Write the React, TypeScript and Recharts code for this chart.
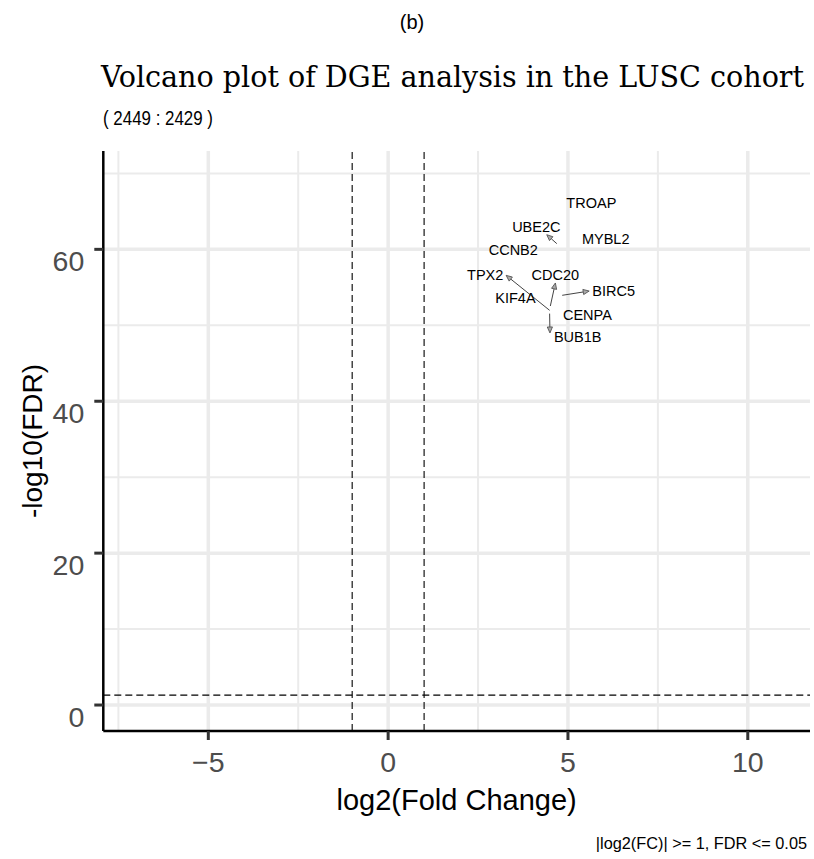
import React from "react";
import { ScatterChart, Scatter, XAxis, YAxis, ReferenceLine } from "recharts";

// gene labels as placed by the label repel step (log2 FC, -log10 FDR)
const genes = ["TROAP", "UBE2C", "MYBL2", "CCNB2", "TPX2", "CDC20", "BIRC5", "KIF4A", "CENPA", "BUB1B"];
const labelFC = [5.65, 4.12, 6.05, 3.48, 2.7, 4.65, 6.27, 3.54, 5.54, 5.27];
const labelLogFDR = [66.05, 62.89, 61.32, 59.87, 56.58, 56.58, 54.47, 53.55, 51.32, 48.42];

// connector segments: from the gene's point to its label
const segFromFC = [4.69, 4.49, 4.51, 4.84, 4.49];
const segFromLogFDR = [60.75, 51.97, 52.54, 53.95, 51.54];
const segToFC = [4.41, 3.28, 4.65, 5.59, 4.5];
const segToLogFDR = [61.93, 56.58, 55.57, 54.51, 48.99];

// axes
const xTicks = [-5, 0, 5, 10];
const xMinor = [-7.5, -2.5, 2.5, 7.5];
const yTicks = [0, 20, 40, 60];
const yMinor = [10, 30, 50, 70];
const fcCut = 1;
const fdrCut = -Math.log10(0.05);

const labelData = genes.map((gene, i) => ({ x: labelFC[i], y: labelLogFDR[i], gene }));
const segments = segFromFC.map((_, i) => [
  { x: segFromFC[i], y: segFromLogFDR[i] },
  { x: segToFC[i], y: segToLogFDR[i] },
]);

const fmt = (v: number) => (v < 0 ? "\u2212" + Math.abs(v) : String(v));

const XTick = ({ x, y, payload }: any) => (
  <text x={x} y={y} dy={30} textAnchor="middle" fontSize={28.5} fill="#4D4D4D" fontFamily="Liberation Sans, Arial">
    {fmt(payload.value)}
  </text>
);

const YTick = ({ x, y, payload }: any) => (
  <text x={x} y={y} dy={22} textAnchor="end" fontSize={28.5} fill="#4D4D4D" fontFamily="Liberation Sans, Arial">
    {fmt(payload.value)}
  </text>
);

const Arrow = (p: any) => {
  const { x1, y1, x2, y2 } = p;
  const ang = Math.atan2(y2 - y1, x2 - x1);
  const len = 6;
  const w = 2.6;
  const bx = x2 - len * Math.cos(ang);
  const by = y2 - len * Math.sin(ang);
  const pts = [
    [x2, y2],
    [bx + w * Math.sin(ang), by - w * Math.cos(ang)],
    [bx - w * Math.sin(ang), by + w * Math.cos(ang)],
  ]
    .map((q) => q.join(","))
    .join(" ");
  return (
    <g>
      <line x1={x1} y1={y1} x2={bx} y2={by} stroke="#444" strokeWidth={1} />
      <polygon points={pts} fill="#aaa" stroke="#444" strokeWidth={0.8} />
    </g>
  );
};

const GeneLabel = (p: any) => (
  <text
    x={p.cx}
    y={p.cy}
    textAnchor="middle"
    dominantBaseline="central"
    fontSize={14.5}
    fill="#000"
    fontFamily="Liberation Sans, Arial"
  >
    {p.payload.gene}
  </text>
);

export default function App() {
  return (
    <div style={{ position: "absolute", left: 0, top: 0, width: 814, height: 859, background: "#fff" }}>
      <ScatterChart width={814} height={859} margin={{ top: 151, right: 4, bottom: 68, left: 43.3 }}>
        {xMinor.map((v) => (
          <ReferenceLine key={"xm" + v} x={v} stroke="#EBEBEB" strokeWidth={2} />
        ))}
        {yMinor.map((v) => (
          <ReferenceLine key={"ym" + v} y={v} stroke="#EBEBEB" strokeWidth={2} />
        ))}
        {xTicks.map((v) => (
          <ReferenceLine key={"xM" + v} x={v} stroke="#EBEBEB" strokeWidth={3.5} />
        ))}
        {yTicks.map((v) => (
          <ReferenceLine key={"yM" + v} y={v} stroke="#EBEBEB" strokeWidth={3.5} />
        ))}
        <XAxis
          type="number"
          dataKey="x"
          domain={[-7.92, 11.73]}
          ticks={xTicks}
          allowDataOverflow
          height={60}
          tickSize={9}
          tickMargin={2}
          axisLine={{ stroke: "#000", strokeWidth: 2.5 }}
          tickLine={{ stroke: "#333", strokeWidth: 3 }}
          tick={<XTick />}
        />
        <YAxis
          type="number"
          dataKey="y"
          domain={[-3.42, 72.95]}
          ticks={yTicks}
          allowDataOverflow
          width={60}
          tickSize={9}
          tickMargin={10}
          axisLine={{ stroke: "#000", strokeWidth: 2.5 }}
          tickLine={{ stroke: "#333", strokeWidth: 3 }}
          tick={<YTick />}
        />
        <ReferenceLine x={-fcCut} stroke="#000" strokeWidth={1.1} strokeDasharray="7 4" />
        <ReferenceLine x={fcCut} stroke="#000" strokeWidth={1.1} strokeDasharray="7 4" />
        <ReferenceLine y={fdrCut} stroke="#000" strokeWidth={1.1} strokeDasharray="7 4" />
        {segments.map((s, i) => (
          <ReferenceLine key={"seg" + i} segment={s} shape={Arrow} />
        ))}
        <Scatter data={labelData} shape={GeneLabel} isAnimationActive={false} />
      </ScatterChart>
      <svg
        width={814}
        height={859}
        style={{ position: "absolute", left: 0, top: 0, pointerEvents: "none" }}
        fontFamily="Liberation Sans, Arial"
      >
        <text x={412} y={29} textAnchor="middle" fontSize={20} fill="#000">
          (b)
        </text>
        <text
          x={101}
          y={87}
          fontSize={29}
          fill="#000"
          fontFamily="DejaVu Serif Condensed, DejaVu Serif"
          textLength={703}
          lengthAdjust="spacingAndGlyphs"
        >
          Volcano plot of DGE analysis in the LUSC cohort
        </text>
        <text x={103} y={125} fontSize={21} fill="#000" textLength={110} lengthAdjust="spacingAndGlyphs">
          ( 2449 : 2429 )
        </text>
        <text x={456.6} y={810} textAnchor="middle" fontSize={29} fill="#000">
          log2(Fold Change)
        </text>
        <text x={41.5} y={441} textAnchor="middle" fontSize={28} fill="#000" transform="rotate(-90 41.5 441)">
          -log10(FDR)
        </text>
        <text x={807} y={849} textAnchor="end" fontSize={16.3} fill="#000">
          |log2(FC)| &gt;= 1, FDR &lt;= 0.05
        </text>
      </svg>
    </div>
  );
}
